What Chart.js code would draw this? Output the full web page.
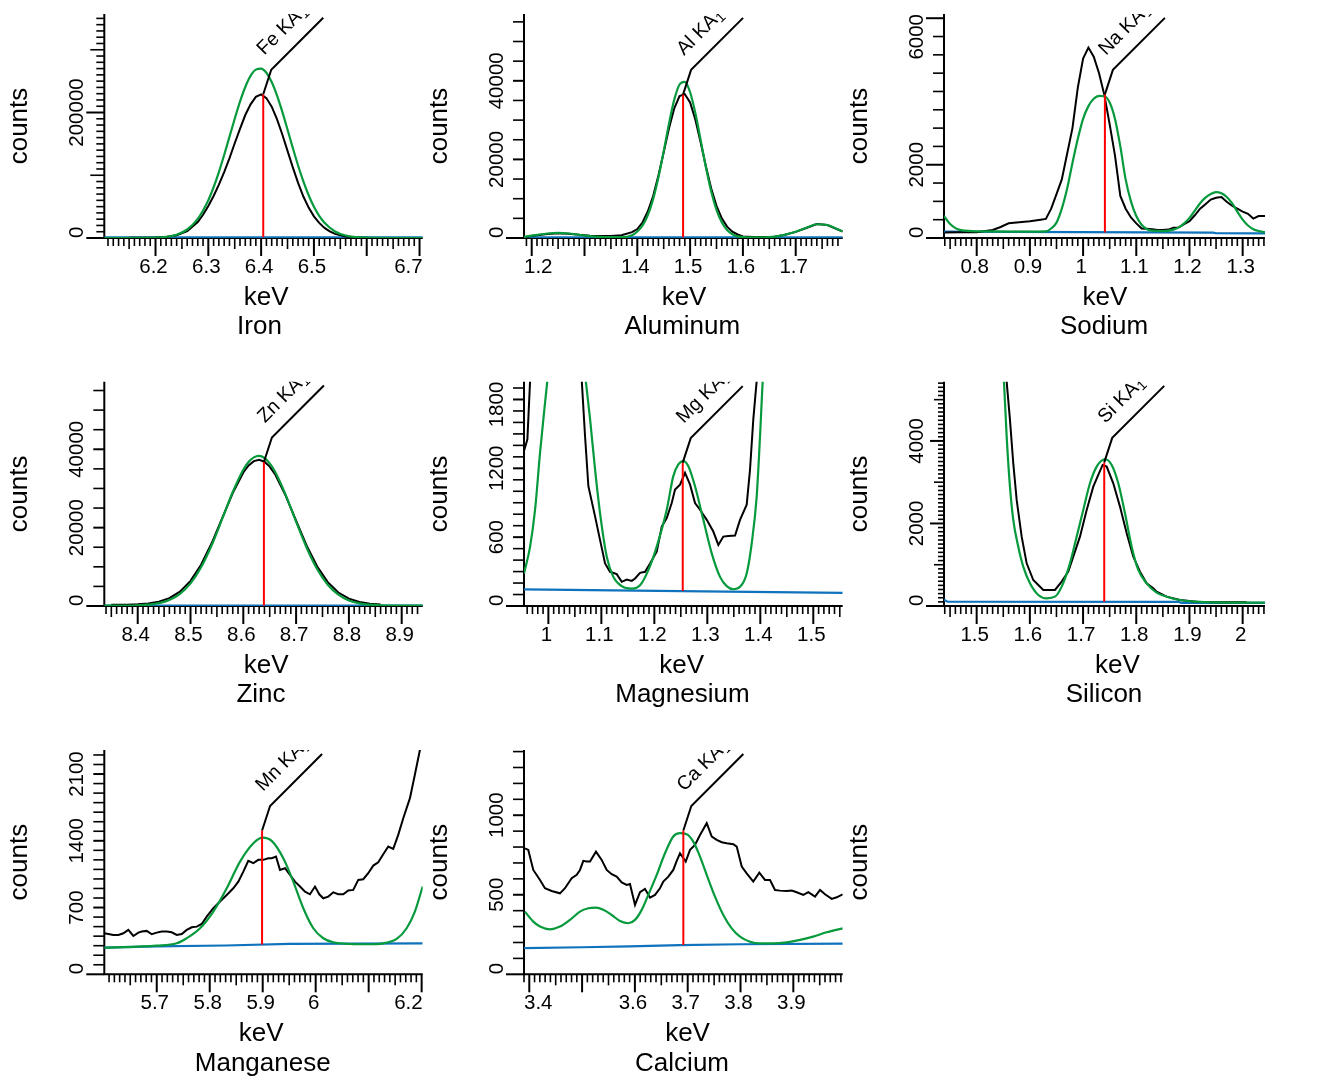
<!DOCTYPE html>
<html>
<head>
<meta charset="utf-8">
<script src="https://cdn.jsdelivr.net/npm/chart.js@4.4.1/dist/chart.umd.min.js"></script>
<style>
html,body{margin:0;padding:0;background:#fff;}
#wrap{position:relative;width:1326px;height:1082px;overflow:hidden;background:#fff;}
#wrap canvas{position:absolute;}
</style>
</head>
<body>
<div id="wrap"></div>
<script>
// ---------------- DATA ----------------
// Iron
const feDataKeV = [6.15,6.18,6.20,6.22,6.24,6.26,6.28,6.29,6.30,6.31,6.32,6.33,6.34,6.35,6.36,6.37,6.38,6.39,6.40,6.41,6.42,6.43,6.44,6.45,6.46,6.47,6.48,6.49,6.50,6.51,6.52,6.53,6.54,6.56,6.58,6.61];
const feDataCounts = [200,300,600,1500,4300,11000,25500,37000,51000,67000,85000,105000,127000,151000,174000,196000,213000,225000,229000,223000,209300,189500,165300,138900,112500,87800,66100,48500,34500,24000,16000,10500,6500,2400,800,150];
const feFitKeV = [6.103,6.14,6.18,6.20,6.22,6.24,6.26,6.28,6.30,6.31,6.32,6.33,6.34,6.35,6.36,6.37,6.38,6.39,6.40,6.41,6.42,6.43,6.44,6.45,6.46,6.47,6.48,6.49,6.50,6.51,6.52,6.54,6.56,6.58,6.60,6.62,6.65,6.706];
const feFitCounts = [0,7,148,555,1830,5310,13550,30500,60300,80900,105100,132200,161100,190100,217400,240700,258300,268300,270000,263300,248500,227300,201400,172800,143600,115600,90200,68100,49800,35300,24200,10400,3910,1300,380,97,10,0];
const feBaseKeV = [6.103,6.706];
const feBaseCounts = [1200,1200];
const feXLabels = [6.2,6.3,6.4,6.5,6.7];
const feYLabels = [0,200000];
const feLine = [6.404,1200,229000];

// Aluminum
const alDataKeV = [1.19,1.21,1.23,1.25,1.27,1.29,1.31,1.33,1.35,1.37,1.39,1.40,1.41,1.42,1.43,1.44,1.45,1.46,1.47,1.48,1.49,1.50,1.51,1.52,1.53,1.54,1.55,1.56,1.57,1.58,1.59,1.60,1.62,1.64,1.66,1.68,1.70,1.72,1.74,1.76,1.78,1.789];
const alDataCounts = [300,700,1000,1200,1100,800,600,500,500,700,1500,2270,4000,6800,10700,15900,21800,27900,33000,36100,36600,34500,30100,24300,18200,12600,8200,5000,2900,1600,900,400,250,250,350,850,1550,2550,3550,3300,2150,1650];
const alFitKeV = [1.185,1.21,1.23,1.25,1.27,1.29,1.31,1.33,1.35,1.37,1.39,1.40,1.41,1.42,1.43,1.44,1.45,1.46,1.47,1.48,1.49,1.50,1.51,1.52,1.53,1.54,1.55,1.56,1.57,1.58,1.59,1.60,1.62,1.64,1.66,1.68,1.70,1.72,1.74,1.76,1.78,1.789];
const alFitCounts = [300,800,1150,1300,1150,800,500,300,200,200,700,1650,3200,5850,9900,15450,22070,29110,35210,39060,39740,37090,31740,24910,17930,11840,7170,3980,2030,950,400,250,150,150,350,850,1600,2600,3500,3300,2200,1700];
const alBaseKeV = [1.185,1.789];
const alBaseCounts = [150,150];
const alXLabels = [1.2,1.4,1.5,1.6,1.7];
const alYLabels = [0,20000,40000];
const alLine = [1.4867,150,36540];

// Sodium
const naDataKeV = [0.74,0.77,0.80,0.83,0.845,0.86,0.88,0.90,0.92,0.93,0.94,0.95,0.96,0.97,0.98,0.99,1.00,1.01,1.02,1.03,1.04,1.05,1.06,1.07,1.08,1.09,1.10,1.11,1.12,1.13,1.14,1.15,1.16,1.17,1.18,1.19,1.20,1.21,1.22,1.23,1.24,1.25,1.26,1.27,1.28,1.29,1.30,1.31,1.32,1.33,1.342];
const naDataCounts = [150,155,160,220,300,400,430,460,500,520,800,1200,1600,2300,3000,4100,4900,5200,4950,4500,3900,3100,2250,1150,800,560,400,260,250,240,220,220,230,280,290,380,460,620,800,920,1050,1100,1120,990,880,800,720,660,530,600,600];
const naFitKeV = [0.7385,0.75,0.76,0.77,0.79,0.82,0.86,0.90,0.93,0.94,0.95,0.96,0.97,0.98,0.99,1.00,1.01,1.02,1.03,1.04,1.05,1.06,1.07,1.08,1.09,1.10,1.11,1.12,1.13,1.15,1.17,1.18,1.19,1.20,1.21,1.22,1.23,1.24,1.25,1.26,1.27,1.28,1.29,1.30,1.31,1.32,1.33,1.342];
const naFitCounts = [600,380,270,215,190,180,175,175,180,260,420,800,1350,2050,2700,3250,3600,3800,3880,3870,3700,3250,2500,1600,1000,600,360,240,200,190,230,290,400,550,750,950,1100,1200,1250,1220,1120,950,720,500,340,240,190,160];
const naBaseKeV = [0.7385,1.245,1.25,1.342];
const naBaseCounts = [175,145,130,128];
const naXLabels = [0.8,0.9,1,1.1,1.2,1.3];
const naYLabels = [0,2000,6000];
const naLine = [1.041,150,3920];

// Zinc
const znDataKeV = [8.35,8.38,8.40,8.42,8.44,8.46,8.48,8.50,8.52,8.54,8.56,8.58,8.60,8.61,8.62,8.63,8.64,8.65,8.66,8.68,8.70,8.72,8.74,8.76,8.78,8.80,8.82,8.84,8.86];
const znDataCounts = [300,345,430,630,1080,1990,3660,6420,10540,16010,22410,28840,34080,35880,36980,37300,36820,35580,33650,28230,21760,15410,10070,6080,3440,1870,1016,600,415];
const znFitKeV = [8.337,8.36,8.40,8.42,8.44,8.46,8.48,8.50,8.52,8.54,8.56,8.58,8.60,8.61,8.62,8.63,8.64,8.65,8.66,8.68,8.70,8.72,8.74,8.76,8.78,8.80,8.82,8.84,8.86,8.88,8.90,8.94];
const znFitCounts = [100,110,190,350,730,1540,3090,5760,9870,15490,22220,29100,34790,36750,37940,38300,37770,36420,34310,28440,21520,14870,9390,5430,2890,1430,680,330,180,125,105,100];
const znBaseKeV = [8.337,8.94];
const znBaseCounts = [100,100];
const znXLabels = [8.4,8.5,8.6,8.7,8.8,8.9];
const znYLabels = [0,20000,40000];
const znLine = [8.639,100,36770];

// Magnesium
const mgDataKeV = [0.954,0.9604,0.9655,0.98,1.03,1.06,1.063,1.0692,1.0755,1.0881,1.0975,1.107,1.1164,1.129,1.1385,1.1479,1.1574,1.1636,1.173,1.1825,1.1919,1.2045,1.214,1.2234,1.2328,1.2391,1.2485,1.2579,1.2674,1.2768,1.2862,1.2989,1.3113,1.3208,1.3302,1.3396,1.3523,1.3617,1.3743,1.3806,1.3868,1.3932,1.42,1.47,1.5555];
const mgDataCounts = [1351,1453,1965,3000,5000,2500,1965,1482,1044,781,576,371,298,278,211,231,219,240,289,298,371,474,693,766,898,1015,1058,1161,1058,898,839,751,649,532,605,611,614,751,883,1190,1629,1965,3000,6000,5000];
const mgFitKeV = [0.954,0.9655,0.9749,0.9843,0.9938,1.000,1.035,1.066,1.0787,1.0881,1.0975,1.1102,1.1226,1.1385,1.1574,1.173,1.1887,1.2045,1.2234,1.2358,1.2453,1.2547,1.2642,1.2768,1.2925,1.3083,1.324,1.3366,1.3491,1.3617,1.3743,1.3838,1.3932,1.3995,1.4045,1.41,1.45,1.5555];
const mgFitCounts = [284,518,839,1336,1775,2050,3500,2150,1629,1190,810,430,254,173,152,181,313,518,839,1132,1234,1263,1219,1044,751,459,254,173,146,167,284,547,956,1482,1965,2400,4000,4000];
const mgBaseKeV = [0.954,1.25,1.5555];
const mgBaseCounts = [145,130,115];
const mgXLabels = [1,1.1,1.2,1.3,1.4,1.5];
const mgYLabels = [0,600,1200,1800];
const mgLine = [1.2536,130,1250];

// Silicon
const siDataKeV = [1.4386,1.50,1.54,1.5564,1.5626,1.5688,1.5752,1.5846,1.594,1.6064,1.6252,1.6472,1.6598,1.6722,1.6816,1.6942,1.7068,1.7192,1.7286,1.7368,1.7444,1.7568,1.7694,1.782,1.7944,1.807,1.8195,1.832,1.8383,1.8571,1.8821,1.9135,1.9448,2.0075];
const siDataCounts = [9000,12000,7000,5438,4509,3459,2570,1681,1034,630,388,388,590,832,1196,1681,2327,2893,3176,3418,3378,2974,2408,1762,1196,832,549,428,347,226,145,105,89,89];
const siFitKeV = [1.4386,1.50,1.54,1.5513,1.5564,1.5626,1.5688,1.5782,1.5876,1.6002,1.6158,1.6316,1.6472,1.6598,1.6754,1.688,1.7004,1.713,1.7256,1.7412,1.7538,1.7662,1.7788,1.7914,1.8038,1.8195,1.8383,1.8571,1.8821,1.9135,1.9448,2.0416];
const siFitCounts = [9000,12000,7500,5438,4105,2893,2085,1438,954,549,267,186,226,469,1034,1681,2327,2974,3378,3556,3418,2974,2246,1438,873,549,323,226,145,105,89,81];
const siBaseKeV = [1.4386,1.445,1.88,1.885,2.042];
const siBaseCounts = [150,105,100,75,75];
const siXLabels = [1.5,1.6,1.7,1.8,1.9,2];
const siYLabels = [0,2000,4000];
const siLine = [1.7398,100,3480];

// Manganese
const mnDataKeV = [5.6011,5.6087,5.6181,5.6275,5.637,5.6464,5.6558,5.6653,5.6717,5.6811,5.6906,5.7,5.7094,5.7189,5.7283,5.7377,5.7472,5.7566,5.766,5.7755,5.7849,5.7943,5.8068,5.8194,5.8321,5.8445,5.854,5.8634,5.8728,5.8823,5.8917,5.9011,5.9106,5.917,5.9251,5.9326,5.9421,5.9515,5.9609,5.9704,5.9798,5.9892,5.9987,6.0068,6.0143,6.0238,6.0332,6.0426,6.0521,6.0615,6.0709,6.0804,6.0898,6.0992,6.1087,6.1181,6.1275,6.137,6.1464,6.1558,6.1653,6.1779,6.1872,6.1968,6.202];
const mnDataCounts = [430,423,413,413,430,465,402,437,448,455,420,437,448,448,441,413,423,465,493,500,528,604,693,763,832,902,972,1077,1189,1165,1200,1200,1217,1217,1235,1095,1112,1042,972,920,867,839,920,839,797,815,860,839,839,878,885,990,997,1060,1140,1175,1259,1340,1315,1462,1637,1847,2092,2354,2500];
const mnFitKeV = [5.6011,5.7,5.7377,5.7566,5.7817,5.8068,5.8321,5.8572,5.8823,5.9,5.917,5.9389,5.9577,5.9766,5.9955,6.0143,6.0332,6.0647,6.0962,6.1275,6.1528,6.1717,6.1872,6.2019];
const mnFitCounts = [280,301,325,378,483,658,902,1182,1375,1434,1399,1217,972,693,483,378,336,318,315,325,371,483,658,920];
const mnBaseKeV = [5.601,5.70,5.83,5.95,6.202];
const mnBaseCounts = [280,292,302,318,325];
const mnXLabels = [5.7,5.8,5.9,6,6.2];
const mnYLabels = [0,700,1400,2100];
const mnLine = [5.8988,312,1508];

// Calcium
const caDataKeV = [3.3919,3.3981,3.4076,3.4203,3.4297,3.4424,3.4581,3.4676,3.4803,3.4898,3.496,3.5023,3.5087,3.515,3.5263,3.5371,3.5466,3.556,3.5655,3.575,3.5845,3.5907,3.6002,3.6097,3.6191,3.6286,3.6381,3.6475,3.6538,3.6633,3.6727,3.6792,3.6854,3.6962,3.7044,3.7138,3.7233,3.736,3.7455,3.7549,3.7644,3.7739,3.7864,3.7928,3.8023,3.8117,3.8242,3.8356,3.8464,3.8559,3.8653,3.8748,3.8875,3.897,3.9064,3.9189,3.9284,3.9411,3.9506,3.96,3.9727,3.9822,3.9936];
const caDataCounts = [792,782,656,593,541,524,509,541,604,625,656,713,709,709,771,719,656,629,614,577,562,568,436,516,537,482,499,541,583,614,656,713,761,709,782,813,876,950,866,845,830,824,818,803,677,635,583,639,593,593,530,526,524,526,516,499,516,488,530,503,474,484,503];
const caFitKeV = [3.3919,3.4076,3.4203,3.4392,3.4581,3.4771,3.496,3.5117,3.5263,3.5402,3.556,3.5718,3.5875,3.6002,3.6129,3.6254,3.6413,3.657,3.6727,3.6854,3.6981,3.7106,3.7233,3.736,3.7517,3.7674,3.7833,3.7991,3.818,3.8369,3.8621,3.8875,3.9127,3.9377,3.9631,3.9936];
const caFitCounts = [394,331,300,283,300,342,394,415,419,405,373,335,321,342,405,499,625,761,866,887,881,834,740,625,488,373,289,237,205,195,195,201,216,237,264,289];
const caBaseKeV = [3.39,3.50,3.59,3.685,3.80,3.9936];
const caBaseCounts = [164,170,176,184,189,193];
const caXLabels = [3.4,3.6,3.7,3.8,3.9];
const caYLabels = [0,500,1000];
const caLine = [3.6917,184,904];

// ---------------- LAYOUT / STYLE ----------------
const FONT = '"Liberation Sans", Arial, Helvetica, sans-serif';
const GREEN = '#069a3c';
const BLUE = '#0f72bc';
const RED = '#ff0000';
const COLX = [0,420,840], ROWY = [0,368,736];
const PL = [104.3,524,944], PR = [422.7,842.7,1265];
const PT = [14,381.7,750], PB = [238,606,974.3];

const panels = [
  {name:'Iron', sym:'Fe', col:0,row:0, xMin:6.103,xMax:6.706,yMax:357000,
   data:[feDataKeV,feDataCounts], fit:[feFitKeV,feFitCounts], base:[feBaseKeV,feBaseCounts],
   xLabels:feXLabels, yLabels:feYLabels, line:feLine,
   yTick:{minor:10000, medium:100000, minorLen:8, mediumLen:14, majorLen:18}, kevShift:2.6, nameShift:-4},
  {name:'Aluminum', sym:'Al', col:1,row:0, xMin:1.1854,xMax:1.789,yMax:57000,
   data:[alDataKeV,alDataCounts], fit:[alFitKeV,alFitCounts], base:[alBaseKeV,alBaseCounts],
   xLabels:alXLabels, yLabels:alYLabels, line:alLine,
   yTick:{minor:5000, medium:0, minorLen:11, mediumLen:11, majorLen:11}, kevShift:0.7, nameShift:-1},
  {name:'Sodium', sym:'Na', col:2,row:0, xMin:0.7385,xMax:1.342,yMax:6115,
   data:[naDataKeV,naDataCounts], fit:[naFitKeV,naFitCounts], base:[naBaseKeV,naBaseCounts],
   xLabels:naXLabels, yLabels:naYLabels, line:naLine,
   yTick:{minor:500, medium:0, minorLen:11, mediumLen:11, majorLen:18}, kevShift:0.5, nameShift:-0.5},
  {name:'Zinc', sym:'Zn', col:0,row:1, xMin:8.3367,xMax:8.9398,yMax:57250,
   data:[znDataKeV,znDataCounts], fit:[znFitKeV,znFitCounts], base:[znBaseKeV,znBaseCounts],
   xLabels:znXLabels, yLabels:znYLabels, line:znLine,
   yTick:{minor:5000, medium:0, minorLen:11, mediumLen:11, majorLen:11}, kevShift:2.6, nameShift:-2.5},
  {name:'Magnesium', sym:'Mg', col:1,row:1, xMin:0.954,xMax:1.5555,yMax:1955,
   data:[mgDataKeV,mgDataCounts], fit:[mgFitKeV,mgFitCounts], base:[mgBaseKeV,mgBaseCounts],
   xLabels:mgXLabels, yLabels:mgYLabels, line:mgLine,
   yTick:{minor:100, medium:0, minorLen:11, mediumLen:11, majorLen:11}, kevShift:-1.6, nameShift:-0.9},
  {name:'Silicon', sym:'Si', col:2,row:1, xMin:1.4386,xMax:2.042,yMax:5435,
   data:[siDataKeV,siDataCounts], fit:[siFitKeV,siFitCounts], base:[siBaseKeV,siBaseCounts],
   xLabels:siXLabels, yLabels:siYLabels, line:siLine,
   yTick:{minor:100, medium:1000, minorLen:6, mediumLen:10, majorLen:14}, kevShift:13, nameShift:-0.5},
  {name:'Manganese', sym:'Mn', col:0,row:2, xMin:5.601,xMax:6.202,yMax:2352,
   data:[mnDataKeV,mnDataCounts], fit:[mnFitKeV,mnFitCounts], base:[mnBaseKeV,mnBaseCounts],
   xLabels:mnXLabels, yLabels:mnYLabels, line:mnLine,
   yTick:{minor:100, medium:0, minorLen:11, mediumLen:11, majorLen:11}, kevShift:-2.4, nameShift:-0.8},
  {name:'Calcium', sym:'Ca', col:1,row:2, xMin:3.39,xMax:3.9935,yMax:1410,
   data:[caDataKeV,caDataCounts], fit:[caFitKeV,caFitCounts], base:[caBaseKeV,caBaseCounts],
   xLabels:caXLabels, yLabels:caYLabels, line:caLine,
   yTick:{minor:100, medium:0, minorLen:11, mediumLen:11, majorLen:11}, kevShift:4.2, nameShift:-1.3}
];

function pts(xs, ys){ return xs.map((x,i)=>({x:x, y:ys[i]})); }

function drawCounts(ctx, x, y){
  ctx.save();
  ctx.font = '26px ' + FONT;
  ctx.textAlign = 'center'; ctx.textBaseline = 'alphabetic';
  ctx.translate(x, y); ctx.rotate(-Math.PI/2);
  ctx.fillText('counts', 0, 0);
  ctx.restore();
}

function igorPlugin(P){
  return {
    id: 'igor' + P.sym,
    beforeDatasetsDraw(chart){
      const ctx = chart.ctx, a = chart.chartArea, xs = chart.scales.x, ys = chart.scales.y;
      ctx.save();
      ctx.strokeStyle = '#000'; ctx.fillStyle = '#000'; ctx.lineCap = 'butt';
      // axis lines
      ctx.lineWidth = 2;
      ctx.beginPath();
      ctx.moveTo(a.left, a.top); ctx.lineTo(a.left, a.bottom + 1);
      ctx.moveTo(a.left - 1, a.bottom); ctx.lineTo(a.right, a.bottom);
      ctx.stroke();
      // x ticks (0.01 minor, 0.05 medium, 0.1 major)
      const i0 = Math.ceil(xs.min * 100 - 1e-6), i1 = Math.floor(xs.max * 100 + 1e-6);
      for (let i = i0; i <= i1; i++) {
        const px = xs.getPixelForValue(i / 100);
        const major = i % 10 === 0, med = i % 5 === 0;
        const len = major ? 18 : (med ? 11 : 8);
        ctx.lineWidth = major ? 2 : 1.6;
        ctx.beginPath(); ctx.moveTo(px, a.bottom); ctx.lineTo(px, a.bottom + len); ctx.stroke();
      }
      // y ticks
      const T = P.yTick;
      const n = Math.floor(ys.max / T.minor + 1e-6);
      for (let i = 0; i <= n; i++) {
        const v = i * T.minor;
        const py = ys.getPixelForValue(v);
        const lab = P.yLabels.indexOf(v) >= 0;
        let len = T.minorLen;
        if (v === 0) len = 18;
        else if (lab) len = T.majorLen;
        else if (T.medium && v % T.medium === 0) len = T.mediumLen;
        ctx.lineWidth = (v === 0 || lab) ? 2 : 1.6;
        ctx.beginPath(); ctx.moveTo(a.left, py); ctx.lineTo(a.left - len, py); ctx.stroke();
      }
      // x tick labels
      ctx.font = '20.5px ' + FONT;
      ctx.textAlign = 'center'; ctx.textBaseline = 'alphabetic';
      P.xLabels.forEach(v => {
        const t = String(v);
        const w = ctx.measureText(t).width;
        let c = xs.getPixelForValue(v) - 2;
        if (c - w/2 < a.left) c = a.left + w/2;
        if (c + w/2 > a.right) c = a.right - w/2;
        ctx.fillText(t, c, a.bottom + 35);
      });
      // y tick labels (rotated)
      P.yLabels.forEach(v => {
        const t = String(v);
        const w = ctx.measureText(t).width;
        let c = ys.getPixelForValue(v);
        if (c - w/2 < a.top) c = a.top + w/2;
        if (c + w/2 > a.bottom) c = a.bottom - w/2;
        ctx.save();
        ctx.translate(a.left - 21, c); ctx.rotate(-Math.PI/2);
        ctx.fillText(t, 0, 0);
        ctx.restore();
      });
      // axis titles
      const cx = (a.left + a.right) / 2;
      ctx.font = '26px ' + FONT;
      ctx.fillText('keV', cx + P.kevShift, a.bottom + 67);
      ctx.fillText(P.name, cx + P.nameShift, a.bottom + 96.3);
      drawCounts(ctx, a.left - 77, (a.top + a.bottom) / 2);
      ctx.restore();
    },
    afterDatasetsDraw(chart){
      const ctx = chart.ctx, a = chart.chartArea, xs = chart.scales.x, ys = chart.scales.y;
      const ax = xs.getPixelForValue(P.line[0]);
      const by = ys.getPixelForValue(P.line[1]);
      const ay = ys.getPixelForValue(P.line[2]);
      ctx.save();
      // red marker line
      ctx.strokeStyle = RED; ctx.lineWidth = 2;
      ctx.beginPath(); ctx.moveTo(ax, by); ctx.lineTo(ax, ay); ctx.stroke();
      // tag leader
      const kx = ax + 8, ky = ay - 24.5, ex = kx + 52, ey = ky - 52;
      ctx.strokeStyle = '#000'; ctx.lineWidth = 2;
      ctx.beginPath(); ctx.moveTo(ax, ay); ctx.lineTo(kx, ky); ctx.lineTo(ex, ey); ctx.stroke();
      // tag text, clipped to the plot rectangle
      ctx.beginPath(); ctx.rect(a.left, a.top, a.right - a.left, a.bottom - a.top); ctx.clip();
      ctx.fillStyle = '#000';
      ctx.translate(kx - 7, ky - 14); ctx.rotate(-Math.PI/4);
      ctx.textAlign = 'left'; ctx.textBaseline = 'alphabetic';
      ctx.font = '19.5px ' + FONT;
      const main = P.sym + ' KA';
      ctx.fillText(main, 0, 0);
      const w = ctx.measureText(main).width;
      ctx.font = '14px ' + FONT;
      ctx.fillText('1', w + 0.5, 3);
      ctx.restore();
    }
  };
}

const wrap = document.getElementById('wrap');
panels.forEach(P => {
  const cw = P.col === 2 ? 486 : 440, ch = 368;
  const cv = document.createElement('canvas');
  cv.width = cw; cv.height = ch;
  cv.style.width = cw + 'px'; cv.style.height = ch + 'px';
  cv.style.left = COLX[P.col] + 'px'; cv.style.top = ROWY[P.row] + 'px';
  wrap.appendChild(cv);
  const padL = PL[P.col] - COLX[P.col];
  const padR = cw - (PR[P.col] - COLX[P.col]);
  const padT = PT[P.row] - ROWY[P.row];
  const padB = ch - (PB[P.row] - ROWY[P.row]);
  new Chart(cv, {
    type: 'line',
    data: {
      datasets: [
        {label: P.sym + ' fit', data: pts(P.fit[0], P.fit[1]), borderColor: GREEN, borderWidth: 2.2,
         pointRadius: 0, fill: false, cubicInterpolationMode: 'monotone', order: 1},
        {label: P.sym + ' spectrum', data: pts(P.data[0], P.data[1]), borderColor: '#000', borderWidth: 2,
         pointRadius: 0, fill: false, tension: 0, order: 2},
        {label: P.sym + ' background', data: pts(P.base[0], P.base[1]), borderColor: BLUE, borderWidth: 2.2,
         pointRadius: 0, fill: false, tension: 0, order: 3}
      ]
    },
    options: {
      responsive: false, animation: false, devicePixelRatio: 1,
      layout: {padding: {left: padL, right: padR, top: padT, bottom: padB}},
      scales: {
        x: {type: 'linear', min: P.xMin, max: P.xMax, display: false},
        y: {type: 'linear', min: 0, max: P.yMax, display: false}
      },
      plugins: {legend: {display: false}, tooltip: {enabled: false}, title: {display: false}},
      events: []
    },
    plugins: [igorPlugin(P)]
  });
});

// ninth cell: only the y-axis title is present in the reference
(function(){
  const cv = document.createElement('canvas');
  cv.width = 200; cv.height = 300;
  cv.style.left = '840px'; cv.style.top = '736px';
  wrap.appendChild(cv);
  const ctx = cv.getContext('2d');
  ctx.fillStyle = '#000';
  drawCounts(ctx, 944 - 77 - 840, (750 + 974.3) / 2 - 736);
})();
</script>
</body>
</html>
